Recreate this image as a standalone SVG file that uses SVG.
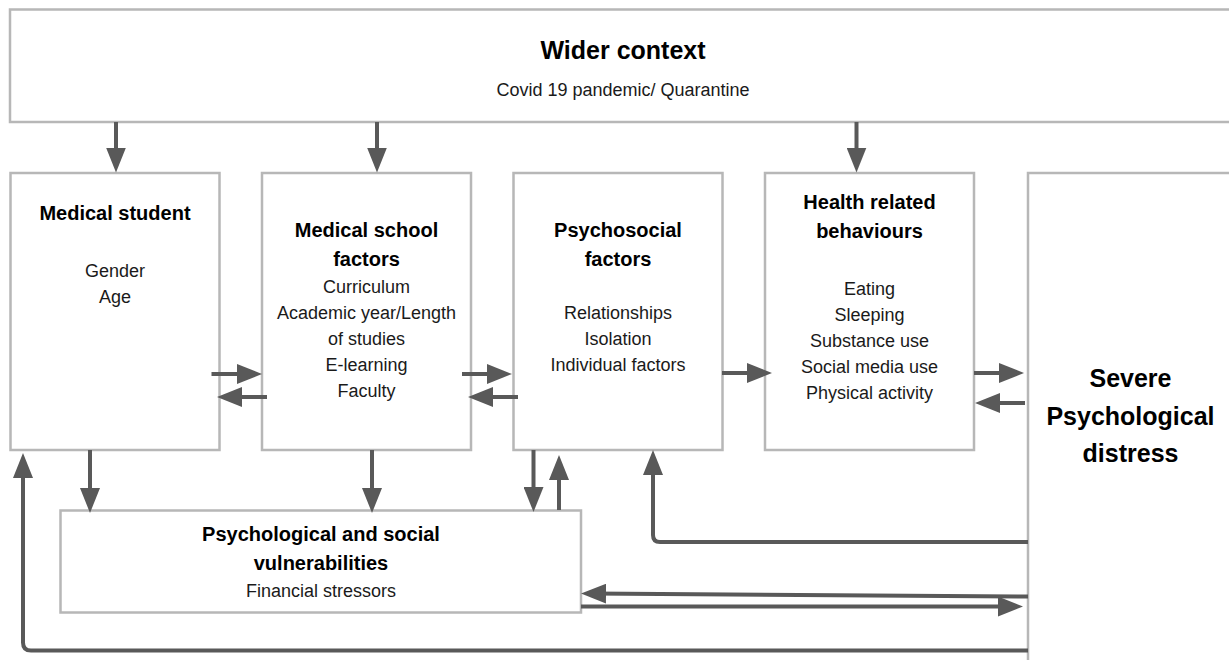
<svg xmlns="http://www.w3.org/2000/svg" width="1229" height="660" viewBox="0 0 1229 660">
<style>
.box{fill:#fff;stroke:#b7b7b7;stroke-width:2.5}
.h{font-family:"Liberation Sans",Arial,sans-serif;font-weight:bold;font-size:20px;fill:#000;text-anchor:middle}
.b{font-family:"Liberation Sans",Arial,sans-serif;font-size:18px;fill:#1a1a1a;text-anchor:middle}
.big{font-family:"Liberation Sans",Arial,sans-serif;font-weight:bold;font-size:25px;fill:#000;text-anchor:middle}
.c{fill:none;stroke:#595959;stroke-width:4;marker-end:url(#ah)}
</style>
<defs>
<marker id="ah" markerUnits="userSpaceOnUse" markerWidth="25" markerHeight="20" refX="15" refY="10" orient="auto">
<path d="M0,0 L25,10 L0,20 z" fill="#595959"/>
</marker>
</defs>
<rect width="1229" height="660" fill="#fff"/>
<g id="wider-context">
<rect class="box" x="10" y="9.5" width="1228" height="112.5"/>
<text class="big" x="623" y="59">Wider context</text>
<text class="b" x="623" y="96">Covid 19 pandemic/ Quarantine</text>
</g>
<g id="medical-student">
<rect class="box" x="10.5" y="173" width="209" height="277"/>
<text class="h" x="115" y="220">Medical student</text>
<text class="b" x="115" y="276.5">Gender</text>
<text class="b" x="115" y="303">Age</text>
</g>
<g id="medical-school-factors">
<rect class="box" x="262" y="173" width="209" height="277"/>
<text class="h" x="366.5" y="237">Medical school</text>
<text class="h" x="366.5" y="266">factors</text>
<text class="b" x="366.5" y="293">Curriculum</text>
<text class="b" x="366.5" y="319">Academic year/Length</text>
<text class="b" x="366.5" y="345">of studies</text>
<text class="b" x="366.5" y="371">E-learning</text>
<text class="b" x="366.5" y="396.5">Faculty</text>
</g>
<g id="psychosocial-factors">
<rect class="box" x="513.5" y="173" width="209" height="277"/>
<text class="h" x="618" y="237">Psychosocial</text>
<text class="h" x="618" y="266">factors</text>
<text class="b" x="618" y="319">Relationships</text>
<text class="b" x="618" y="345">Isolation</text>
<text class="b" x="618" y="371">Individual factors</text>
</g>
<g id="health-related-behaviours">
<rect class="box" x="765" y="173" width="209" height="277"/>
<text class="h" x="869.5" y="208.5">Health related</text>
<text class="h" x="869.5" y="237.5">behaviours</text>
<text class="b" x="869.5" y="295">Eating</text>
<text class="b" x="869.5" y="321">Sleeping</text>
<text class="b" x="869.5" y="347">Substance use</text>
<text class="b" x="869.5" y="373">Social media use</text>
<text class="b" x="869.5" y="399">Physical activity</text>
</g>
<g id="severe-psychological-distress">
<rect class="box" x="1028" y="173" width="210" height="500"/>
<text class="big" x="1130.5" y="387">Severe</text>
<text class="big" x="1130.5" y="425">Psychological</text>
<text class="big" x="1130.5" y="462">distress</text>
</g>
<g id="psychological-social-vulnerabilities">
<rect class="box" x="60.5" y="510.5" width="520.5" height="102"/>
<text class="h" x="321" y="540.5">Psychological and social</text>
<text class="h" x="321" y="569.5">vulnerabilities</text>
<text class="b" x="321" y="596.5">Financial stressors</text>
</g>
<g id="connectors">
<path class="c" d="M116,122 V162.5"/>
<path class="c" d="M377,122 V162.5"/>
<path class="c" d="M856.5,122 V162.5"/>
<path class="c" d="M211.5,374 H252"/>
<path class="c" d="M267,397 H227"/>
<path class="c" d="M462,374 H502"/>
<path class="c" d="M518,397 H478"/>
<path class="c" d="M722,373 H762"/>
<path class="c" d="M974,373 H1014"/>
<path class="c" d="M1025,403 H985"/>
<path class="c" d="M90,450 V503"/>
<path class="c" d="M372,450 V503"/>
<path class="c" d="M533.5,450 V502"/>
<path class="c" d="M559,510 V465"/>
<path class="c" d="M1028,542 H660 Q653,542 653,535 V460"/>
<path class="c" d="M1028,650.5 H31 Q23,650.5 23,642.5 V463"/>
<path class="c" d="M1028,596.5 L591,593.5"/>
<path class="c" d="M581,606.5 H1013"/>
</g>
</svg>
